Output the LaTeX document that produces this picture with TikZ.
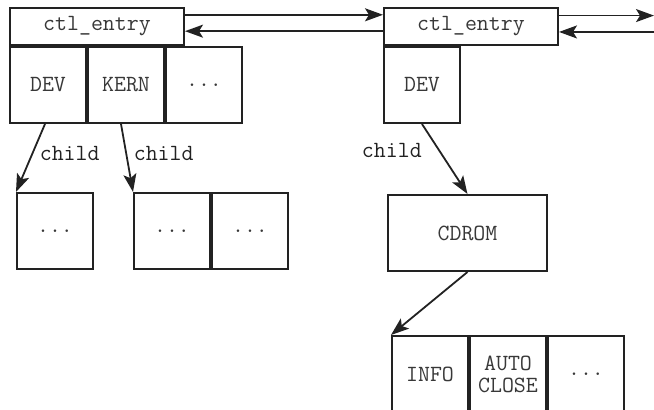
\documentclass[tikz,border=0pt]{standalone}
\usepackage{fontspec}
\usetikzlibrary{arrows.meta,positioning,calc}
\definecolor{boxblack}{HTML}{222222}
\definecolor{textgray}{HTML}{383838}

\tikzset{
  entry/.style={draw=boxblack, line width=1pt, minimum width=87pt, minimum height=18.5pt, inner sep=0pt, text=textgray},
  cell/.style={draw=boxblack, line width=1pt, minimum width=38pt, minimum height=38pt, inner sep=0pt, text=textgray, align=center},
  link/.style={boxblack, line width=0.9pt, -{Stealth[length=9pt,width=6.5pt,inset=2pt]}},
}

\begin{document}
\begin{tikzpicture}[x=0.5pt, y=-0.5pt, font=\ttfamily\fontsize{11.6}{11}\selectfont]
  \useasboundingbox (0,0) rectangle (654,410);
  \clip (0,0) rectangle (654,410);
  % first entry and its table
  \node[entry] (e1) at (97,26.5) {ctl\_entry};
  \node[cell, anchor=north west] (dev1) at (e1.south west) {DEV};
  \node[cell, right=0pt of dev1] (kern) {KERN};
  \node[cell, right=0pt of kern] (more1) {...};
  % second entry
  \node[entry] (e2) at (471,26.5) {ctl\_entry};
  \node[cell, anchor=north west] (dev2) at (e2.south west) {DEV};
  % children
  \node[cell] (c1) at (55,231) {...};
  \node[cell] (c2a) at (172,231) {...};
  \node[cell, right=0pt of c2a] (c2b) {...};
  \node[cell, minimum width=79.5pt] (cdrom) at (467.5,233) {CDROM};
  \node[cell] (info) at (430,374) {INFO};
  \node[cell, right=0pt of info] (auto) {AUTO\\CLOSE};
  \node[cell, right=0pt of auto] (more3) {...};

  % list links
  \coordinate (t1) at ($(e1.north east)!0.2!(e1.south east)$);
  \coordinate (b1) at ($(e1.north east)!0.62!(e1.south east)$);
  \coordinate (t2) at ($(e2.north east)!0.22!(e2.south east)$);
  \coordinate (b2) at ($(e2.north east)!0.64!(e2.south east)$);
  \coordinate (edge) at (654,0);
  \draw[link] (t1) -- (t1 -| e2.west);
  \draw[link] (b1 -| e2.west) -- (b1);
  \draw[link] (t2) -- (t2 -| edge);
  \draw[link] (b2 -| edge) -- (b2);

  % child links
  \draw[link] ([xshift=-1.5pt]dev1.south) -- (c1.north west) node[pos=0.44, right] {child};
  \draw[link] ([xshift=-2.5pt]kern.south) -- (c2a.north west) node[pos=0.44, right] {child};
  \draw[link] (dev2.south) -- (cdrom.north) node[pos=0.38, left=5pt] {child};
  \draw[link] (cdrom.south) -- (info.north west);
\end{tikzpicture}
\end{document}
